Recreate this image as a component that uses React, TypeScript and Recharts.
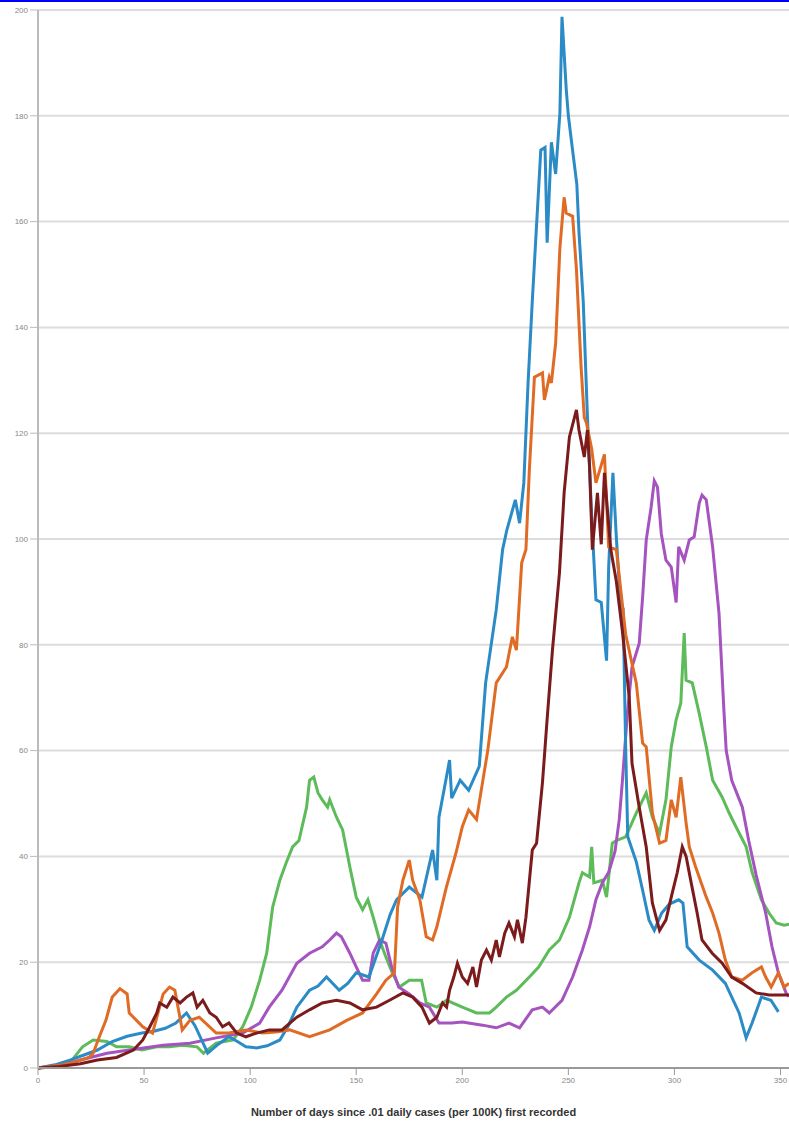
import React from "react";
import { LineChart, Line, XAxis, YAxis, CartesianGrid, Label } from "recharts";

// x ticks / y ticks
const xTicks = [0, 50, 100, 150, 200, 250, 300, 350];
const yTicks = [0, 20, 40, 60, 80, 100, 120, 140, 160, 180, 200];

// blue
const blueDays = [0, 8, 15, 22, 28, 35, 42, 49, 55, 60, 65, 70, 74, 80, 85, 90, 94, 98, 103, 108, 114, 118, 122, 128, 132, 136, 142, 146, 150, 156, 162, 166, 169, 175, 181, 186, 188, 189, 194, 195, 199, 203, 208, 211, 216, 219, 221, 225, 227, 229, 231, 233, 237, 239, 240, 242, 244, 246, 247, 249, 250, 251, 254, 255, 257, 259, 261, 263, 265.5, 268, 269, 271, 272.6, 275, 275.8, 277, 278, 282, 285, 288, 290.5, 294, 297.6, 302, 304, 306, 311.7, 318, 324, 330.5, 333.8, 336.6, 341, 345.5, 349];
const blueVals = [0, 0.6, 1.5, 2.5, 3.4, 5, 6, 6.6, 7, 7.5, 8.5, 10.4, 8, 2.8, 4.5, 5.9, 5, 4, 3.8, 4.2, 5.3, 8, 11.5, 14.7, 15.5, 17.2, 14.7, 16, 18, 17.2, 24, 29, 31.8, 34.2, 32.3, 41.2, 35.5, 47.4, 58.2, 51, 54.4, 52.5, 57, 72.8, 86.6, 98, 101.7, 107.4, 103, 110.6, 129.5, 145, 173.5, 174, 156, 175, 169, 180.5, 198.7, 185, 180, 176.7, 167, 158, 145, 123, 104, 88.5, 88, 77, 94.7, 112.5, 100.4, 85, 87, 60.7, 43.7, 39, 33.6, 28, 26, 29.3, 31, 31.8, 31.2, 22.9, 20.4, 18.5, 16, 10.4, 5.7, 8.5, 13.4, 12.8, 10.6];

// orange
const orangeDays = [0, 10, 18, 24, 26, 29, 32, 35, 38.6, 42, 43, 49.4, 54, 59, 62, 64.5, 68, 71.6, 76, 84, 90, 98, 106, 112, 118.6, 128, 137.5, 145.5, 153, 159.6, 164, 168, 169.5, 172, 175, 176.6, 180, 183, 186, 188, 192.5, 197, 200, 203, 206.7, 209.5, 212, 216, 220.8, 223.6, 225.5, 228, 230, 231.6, 234, 237.8, 238.7, 241, 242, 244, 246, 248, 249, 252, 253.8, 256, 257.5, 258.5, 261, 263, 267, 269, 272.6, 277, 282, 285, 286.7, 289.6, 293, 296, 298.5, 300.8, 303, 305.5, 307, 310, 315, 318, 321, 324, 327, 332, 336.6, 341, 343, 345.6, 349, 351.7, 354];
const orangeVals = [0, 0.5, 1.2, 2, 2.8, 6, 9, 13.4, 15, 14, 10.4, 7.8, 6.6, 14, 15.3, 14.7, 7.2, 9, 9.6, 6.6, 6.6, 7.2, 6.6, 6.8, 7.2, 5.9, 7.2, 9, 10.4, 14, 16.6, 18, 30.4, 35.5, 39.3, 35.5, 31.8, 24.8, 24.2, 26.7, 34.2, 40.6, 45.6, 48.8, 47, 53.9, 60, 72.8, 75.8, 81.5, 79, 95.5, 98, 113, 130.6, 131.4, 126.3, 130.6, 129.5, 137, 155, 164.6, 161.6, 161, 151, 132.5, 123, 122, 117, 110.6, 116, 98.5, 98, 82, 72.8, 61.4, 60.7, 48.2, 42.5, 43, 50.7, 47.4, 55, 46.3, 41.8, 38, 32.3, 29.3, 25.5, 20.4, 17.2, 16.6, 18, 19.1, 17.2, 15.3, 18, 15.3, 16];

// green
const greenDays = [0, 10, 16, 21, 26, 32.5, 37, 43, 49, 56, 62, 68, 75, 78, 84, 92, 96.5, 100.5, 104.5, 107.8, 110.6, 114, 117, 120, 123, 126.6, 128, 130, 132, 134, 136.5, 137.5, 140.7, 143.6, 147, 150, 153, 155.5, 158, 161, 164, 167, 170.4, 175, 180.8, 183, 188, 192.6, 200, 206.7, 212.8, 216, 220.8, 225.5, 231.6, 236, 241, 245.8, 250.5, 255, 256.6, 260, 261, 262, 266, 268, 270.7, 272.6, 277, 282, 286.7, 289.6, 293, 296, 298.5, 300.8, 303, 304.6, 305.5, 308.4, 311.7, 315, 318, 322.5, 325.8, 329, 333.8, 336.6, 341, 344.6, 348, 351.7, 354];
const greenVals = [0, 0.5, 1.5, 4, 5.3, 5, 4, 4, 3.4, 4, 4, 4.3, 4, 2.8, 4.7, 5.3, 7.8, 11.5, 16.6, 21.7, 30.4, 35.5, 38.8, 41.8, 43, 49.3, 54.4, 55, 52, 50.7, 49.3, 50.7, 47.4, 45, 38, 32.3, 29.9, 31.8, 28.5, 24.2, 21, 18, 15.3, 16.6, 16.6, 12.3, 11.5, 12.8, 11.5, 10.4, 10.4, 11.5, 13.4, 14.7, 17.2, 19.1, 22.3, 24.2, 28.5, 35, 36.9, 36.1, 41.8, 35, 35.5, 32.3, 42.5, 43, 43.7, 48.2, 52, 47.4, 44.4, 50.7, 60.7, 65.8, 69, 82.2, 73.3, 72.8, 67, 60.7, 54.4, 51.2, 48.2, 45.6, 41.8, 37, 31.8, 29.3, 27.4, 27, 27.2];

// purple
const purpleDays = [0, 10, 20, 32.5, 43, 59, 71.6, 84, 96.5, 104.5, 109, 115, 122, 128, 134, 137.5, 140.7, 143, 147, 150, 153, 156, 158, 161, 164, 166.7, 170, 175, 180, 184.5, 189, 195, 200, 209.5, 216, 222, 227, 233, 237.8, 241, 247, 252, 256.6, 260, 263, 266, 269, 272, 274, 275.5, 277.8, 280, 283.4, 285, 286.7, 289, 290.5, 292, 293.8, 296, 298.5, 300.8, 302, 304.6, 307, 309.3, 311.7, 313, 315, 318, 321, 323.4, 324.4, 327, 332, 335, 338.5, 343, 346, 349, 352.6, 354];
const purpleVals = [0, 0.5, 1.5, 2.8, 3.4, 4.3, 4.7, 5.7, 6.6, 8.5, 11.5, 14.7, 19.8, 21.7, 22.9, 24.2, 25.5, 24.8, 21.7, 19.1, 16.6, 16.6, 21.7, 24.2, 23.6, 19.1, 15.3, 14, 12.3, 11.5, 8.5, 8.5, 8.7, 8.1, 7.6, 8.5, 7.6, 11, 11.5, 10.4, 12.8, 17.2, 22.3, 26.7, 31.8, 35, 37, 41, 47, 54.4, 67, 75.8, 80.3, 89, 99.8, 106, 111, 109.8, 101, 96, 94.7, 88, 98.5, 96, 99.8, 100.4, 106.8, 108.3, 107.4, 98.5, 86, 67, 60, 54.4, 49.3, 43, 36.5, 29.3, 22.9, 18, 14.2, 13.5];

// dark red
const redDays = [0, 10, 20, 28, 37, 45, 49.4, 52.7, 56, 57.4, 60.7, 63.6, 67, 70, 73, 75, 77.7, 81, 84, 87, 90, 93.7, 98, 103, 109, 115, 122, 128, 134, 140.7, 147, 153, 159.6, 165.7, 172, 176.6, 181, 184.5, 188, 190.7, 192.6, 194, 196, 197.7, 200, 202.5, 205, 206.7, 209, 211.4, 213.7, 216, 217.5, 220, 222, 224.6, 226, 228.3, 230, 233, 235, 237.8, 240, 242.5, 245.8, 248, 250.5, 253.8, 255, 257.5, 259, 260, 261.3, 263.7, 265.5, 267, 268.4, 270, 272.6, 275.4, 278.7, 280, 283.4, 286.7, 289.6, 293, 296, 298.5, 301.3, 303.7, 305.5, 307.9, 310.7, 313, 317.8, 322.5, 327, 332, 338.5, 344.6, 350.8, 354];
const redVals = [0, 0.3, 0.8, 1.5, 2, 3.4, 5.3, 7.8, 10.4, 12.3, 11.5, 13.4, 12.3, 13.4, 14.2, 11.5, 12.8, 10.4, 9.6, 7.8, 8.5, 6.6, 5.9, 6.6, 7.2, 7.2, 9.6, 11, 12.3, 12.8, 12.3, 11, 11.5, 12.8, 14.2, 13.4, 11.5, 8.5, 9.6, 12.3, 11.5, 14.7, 17.2, 19.8, 17.2, 16, 19.1, 15.3, 20.4, 22.3, 20.4, 24.2, 21, 25.5, 27.4, 24.8, 28, 23.6, 28.5, 41.2, 42.5, 54, 66, 79, 93.6, 108.7, 119.3, 124.4, 120.6, 115.5, 120.6, 113.6, 98, 108.7, 99, 112.5, 105.5, 98, 92, 82.8, 70, 57.6, 49.3, 41.8, 31.2, 26, 28, 32.3, 36.9, 41.8, 40, 35, 29.3, 24.2, 21.7, 19.8, 17.2, 16, 14.2, 13.8, 13.8, 13.8];

const toData = (days: number[], vals: number[]) => days.map((d, i) => ({ day: d, v: vals[i] }));

const series = [
  { name: "green", color: "#5dbb5a", data: toData(greenDays, greenVals) },
  { name: "purple", color: "#a453bf", data: toData(purpleDays, purpleVals) },
  { name: "blue", color: "#2b8bc6", data: toData(blueDays, blueVals) },
  { name: "orange", color: "#e06b24", data: toData(orangeDays, orangeVals) },
  { name: "darkred", color: "#7b1b1b", data: toData(redDays, redVals) },
];

export default function App() {
  return (
    <div style={{ position: "absolute", left: 0, top: 0, width: 789, height: 1122, background: "#fff" }}>
      <div style={{ position: "absolute", left: 0, top: 0, width: 789, height: 2, background: "#0000ff" }} />
      <LineChart width={789} height={1122} margin={{ top: 10, right: 0, left: 0, bottom: 0 }}>
        <CartesianGrid horizontal vertical={false} stroke="#dcdcdc" strokeWidth={2} />
        <XAxis
          type="number"
          dataKey="day"
          domain={[0, 354]}
          ticks={xTicks}
          allowDataOverflow
          height={54}
          tickSize={7}
          tick={{ fontSize: 8, fill: "#888", fontFamily: "Liberation Sans, Arial, sans-serif" }}
          axisLine={{ stroke: "#999", strokeWidth: 2 }}
          tickLine={{ stroke: "#999" }}
        >
          <Label
            value="Number of days since .01 daily cases (per 100K) first recorded"
            position="insideBottom"
            offset={6}
            style={{ fontSize: 11, fontWeight: "bold", fill: "#333", fontFamily: "Liberation Sans, Arial, sans-serif" }}
          />
        </XAxis>
        <YAxis
          type="number"
          domain={[0, 200]}
          ticks={yTicks}
          width={38}
          tickSize={8}
          tick={{ fontSize: 8, fill: "#888", fontFamily: "Liberation Sans, Arial, sans-serif" }}
          axisLine={{ stroke: "#bbb", strokeWidth: 2 }}
          tickLine={{ stroke: "#bbb" }}
        />
        {series.map((s) => (
          <Line
            key={s.name}
            data={s.data}
            dataKey="v"
            type="linear"
            stroke={s.color}
            strokeWidth={3}
            dot={false}
            isAnimationActive={false}
          />
        ))}
      </LineChart>
    </div>
  );
}
